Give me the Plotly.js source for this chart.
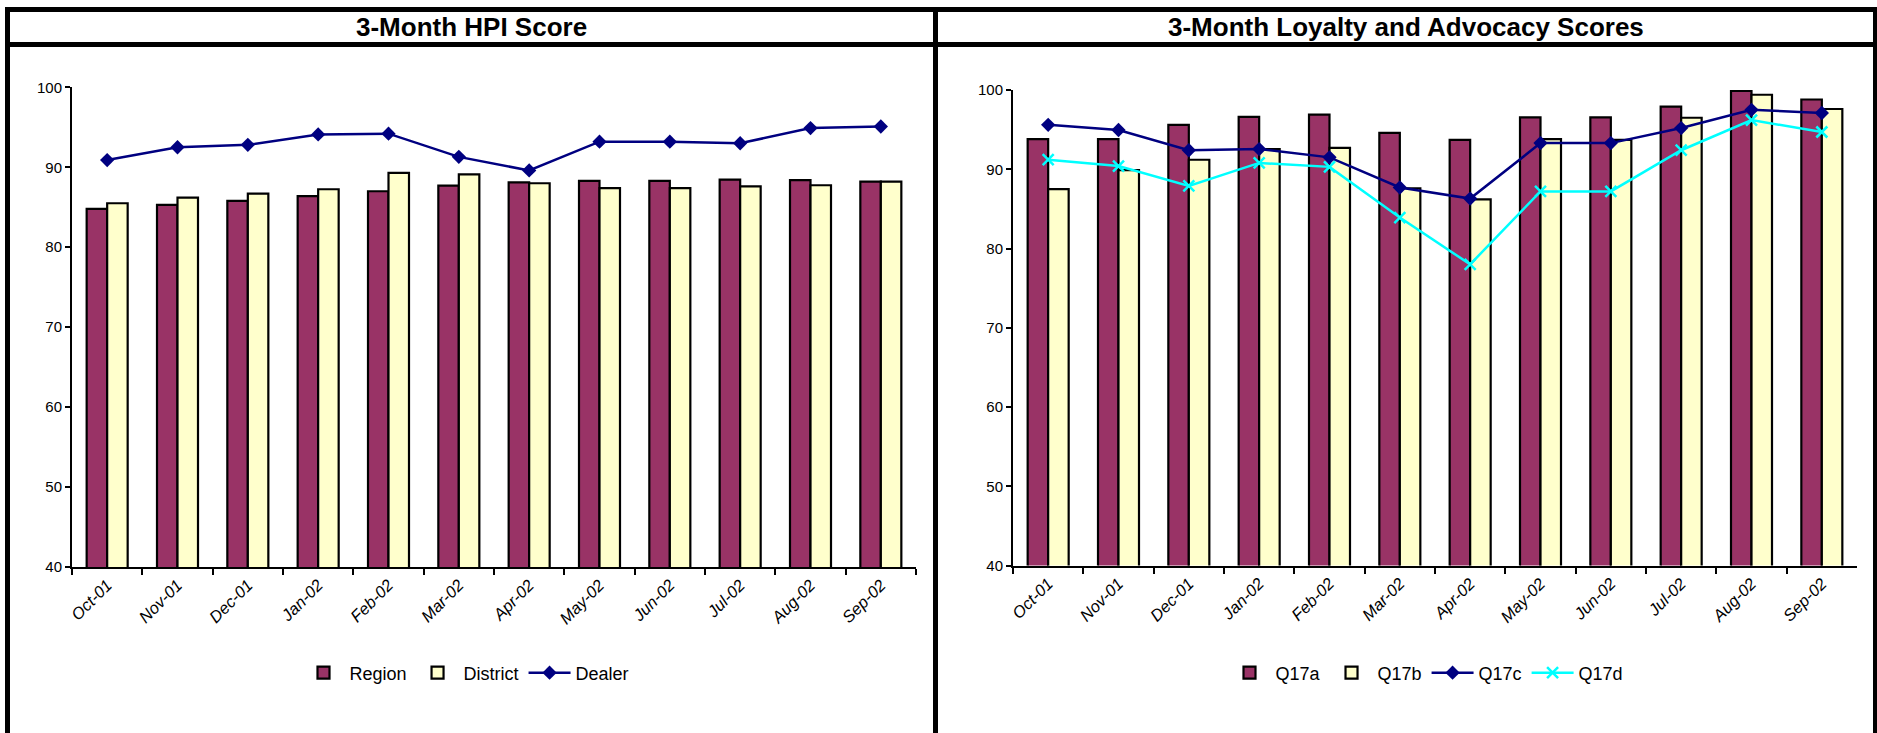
<!DOCTYPE html>
<html>
<head>
<meta charset="utf-8">
<script src="https://cdn.plot.ly/plotly-3.0.1.min.js"></script>
<style>
  html, body { margin: 0; padding: 0; background: #ffffff; }
  #chart { width: 1877px; height: 733px; }
</style>
</head>
<body>
<div id="chart"></div>
<script>
// ---- Data ----
const months = ["Oct-01","Nov-01","Dec-01","Jan-02","Feb-02","Mar-02","Apr-02","May-02","Jun-02","Jul-02","Aug-02","Sep-02"];

// Chart 1: 3-Month HPI Score
const region   = [84.8, 85.3, 85.8, 86.4, 87.0, 87.7, 88.1, 88.3, 88.3, 88.45, 88.4, 88.2];
const district = [85.5, 86.2, 86.7, 87.25, 89.3, 89.1, 88.0, 87.4, 87.4, 87.6, 87.75, 88.2];
const dealer   = [90.9, 92.5, 92.8, 94.1, 94.2, 91.3, 89.6, 93.2, 93.2, 93.0, 94.9, 95.1];

// Chart 2: 3-Month Loyalty and Advocacy Scores
const q17a = [93.8, 93.8, 95.6, 96.6, 96.9, 94.6, 93.7, 96.55, 96.55, 97.9, 99.9, 98.8];
const q17b = [87.5, 89.9, 91.2, 92.55, 92.7, 87.6, 86.2, 93.8, 93.7, 96.5, 99.4, 97.6];
const q17c = [95.6, 94.95, 92.4, 92.55, 91.5, 87.7, 86.3, 93.3, 93.3, 95.2, 97.5, 97.1];
const q17d = [91.2, 90.4, 87.9, 90.8, 90.3, 83.9, 78.0, 87.2, 87.2, 92.4, 96.2, 94.7];

const titleLeft = "3-Month HPI Score";
const titleRight = "3-Month Loyalty and Advocacy Scores";

// ---- Styles ----
const FONT = "Liberation Sans, Arial, sans-serif";
const MAROON = "#993366";
const CREAM = "#FFFFCC";
const NAVY = "#000080";
const CYAN = "#00FFFF";

function barTrace(name, y, color, xa, ya, lg) {
  return {
    type: "bar", name: name, x: months, y: y, xaxis: xa, yaxis: ya, legend: lg,
    marker: { color: color, line: { color: "#000000", width: 2.2 } }
  };
}
function lineTrace(name, y, color, symbol, xa, ya, lg) {
  const isX = symbol === "x-thin";
  return {
    type: "scatter", mode: "lines+markers", name: name, x: months, y: y,
    xaxis: xa, yaxis: ya, legend: lg,
    line: { color: color, width: 2.5 },
    marker: isX
      ? { symbol: symbol, size: 11, color: color, line: { color: color, width: 2.5 } }
      : { symbol: symbol, size: 11, color: color, line: { width: 0 } }
  };
}

const traces = [
  barTrace("Region", region, MAROON, "x", "y", "legend"),
  barTrace("District", district, CREAM, "x", "y", "legend"),
  lineTrace("Dealer", dealer, NAVY, "diamond", "x", "y", "legend"),
  barTrace("Q17a", q17a, MAROON, "x2", "y2", "legend2"),
  barTrace("Q17b", q17b, CREAM, "x2", "y2", "legend2"),
  lineTrace("Q17c", q17c, NAVY, "diamond", "x2", "y2", "legend2"),
  lineTrace("Q17d", q17d, CYAN, "x-thin", "x2", "y2", "legend2")
];

const W = 1877, H = 733;
const px = v => v / W;
const py = v => 1 - v / H;

function xAxis(domain, anchor) {
  return {
    domain: domain, anchor: anchor, type: "category",
    range: [-0.5, 11.5], fixedrange: true,
    showline: true, linecolor: "#000000", linewidth: 2,
    ticks: "outside", tickson: "boundaries", ticklen: 6, tickwidth: 2, tickcolor: "#000000",
    tickangle: -45, showgrid: false, zeroline: false,
    tickfont: { family: FONT, size: 16.5, color: "#000000", style: "italic" }
  };
}
function yAxis(domain, anchor) {
  return {
    domain: domain, anchor: anchor, range: [40, 100], dtick: 10, fixedrange: true,
    showline: true, linecolor: "#000000", linewidth: 2,
    ticks: "outside", ticklen: 5, tickwidth: 2, tickcolor: "#000000",
    showgrid: false, zeroline: false,
    tickfont: { family: FONT, size: 15, color: "#000000" }
  };
}

function legendCfg(xc) {
  return {
    orientation: "h", x: xc, xanchor: "center", y: py(673), yanchor: "middle",
    font: { family: FONT, size: 18, color: "#000000" }, traceorder: "normal",
    itemwidth: 42, bgcolor: "rgba(0,0,0,0)"
  };
}

const layout = {
  width: W, height: H,
  margin: { l: 0, r: 0, t: 0, b: 0, pad: 0 },
  paper_bgcolor: "#ffffff", plot_bgcolor: "#ffffff",
  font: { family: FONT, color: "#000000" },
  barmode: "group", bargap: 0.417, bargroupgap: 0,
  hovermode: false,
  xaxis: xAxis([px(72), px(916)], "y"),
  yaxis: yAxis([py(567), py(87.3)], "x"),
  xaxis2: xAxis([px(1013), px(1857)], "y2"),
  yaxis2: yAxis([py(565.5), py(90)], "x2"),
  legend: legendCfg(px(466)),
  legend2: legendCfg(px(1426)),
  annotations: [
    { text: titleLeft, xref: "paper", yref: "paper", x: px(471.5), y: py(27),
      xanchor: "center", yanchor: "middle", showarrow: false,
      font: { family: FONT, size: 26, color: "#000000", weight: "bold" } },
    { text: titleRight, xref: "paper", yref: "paper", x: px(1405.5), y: py(27),
      xanchor: "center", yanchor: "middle", showarrow: false,
      font: { family: FONT, size: 26, color: "#000000", weight: "bold" } }
  ],
  shapes: [
    { type: "rect", xref: "paper", yref: "paper",
      x0: px(7.5), x1: px(1875.5), y0: -0.1, y1: py(9.5),
      line: { color: "#000000", width: 5 }, fillcolor: "rgba(0,0,0,0)" },
    { type: "line", xref: "paper", yref: "paper",
      x0: px(7.5), x1: px(1875.5), y0: py(44.5), y1: py(44.5),
      line: { color: "#000000", width: 5 } },
    { type: "line", xref: "paper", yref: "paper",
      x0: px(935.5), x1: px(935.5), y0: -0.1, y1: py(9.5),
      line: { color: "#000000", width: 5 } }
  ]
};

Plotly.newPlot("chart", traces, layout, { staticPlot: true, displayModeBar: false });
</script>
</body>
</html>
